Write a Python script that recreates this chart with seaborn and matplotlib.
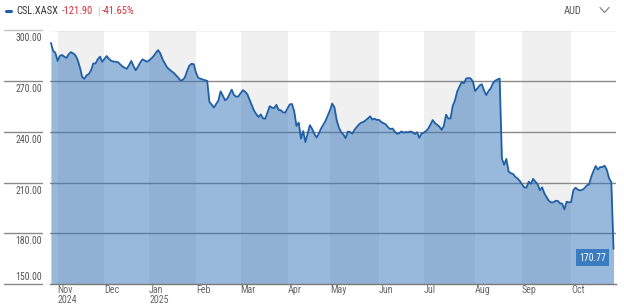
import numpy as np
import pandas as pd
import matplotlib
matplotlib.use("Agg")
import matplotlib.pyplot as plt
import matplotlib.transforms as mtransforms
from matplotlib.lines import Line2D
import seaborn as sns

# ---------------- data ----------------
TICKER = "CSL.XASX"
CHANGE_ABS = "-121.90"
CHANGE_PCT = "-41.65%"
CURRENCY = "AUD"
START_DATE = "2024-10-29"
END_DATE = "2025-10-28"
ASX_HOLIDAYS = ["2024-12-25", "2024-12-26", "2025-01-01", "2025-01-27",
                "2025-04-18", "2025-04-21", "2025-04-25", "2025-06-09"]

prices = [
    292.67, 288.0, 286.8,
    282.0, 285.0, 285.5, 284.5, 283.8, 286.0, 287.2, 286.4, 285.3, 282.5,
    278.1, 272.6, 271.4, 273.5, 274.2, 276.5, 280.5, 280.5, 283.0, 284.5,
    281.5, 283.2, 284.9, 283.2, 282.1, 281.6, 281.5, 281.3, 280.0, 278.8,
    278.0, 277.3, 279.5, 282.0, 278.9, 276.5, 278.5, 281.0, 282.9, 282.3,
    281.5, 282.3, 283.5, 284.8, 286.8, 288.4, 286.5, 283.0, 280.7, 278.3,
    277.0, 275.9, 275.0, 273.5, 272.2, 270.4, 270.7, 272.2, 276.0, 279.2,
    280.3, 280.0, 275.0, 272.0, 271.5, 271.0, 270.6, 270.2, 257.7, 256.2,
    254.4, 256.5, 258.5, 264.0, 261.5, 258.7, 259.7, 262.4, 265.0, 261.8,
    260.8, 261.0, 263.0, 264.7, 263.8, 262.2, 259.0, 255.8, 252.5, 250.5,
    248.8, 250.4, 248.0, 247.8, 251.5, 255.2, 254.4, 254.0, 256.0, 253.0,
    252.8, 251.5, 251.5, 254.0, 256.3, 256.5, 252.0, 243.5, 245.5, 236.0,
    240.5, 234.0, 239.0, 244.0, 241.8, 238.8, 236.7, 239.0, 242.0, 244.2,
    246.5, 249.7, 252.8, 256.8, 254.5, 247.0, 242.5, 239.9, 238.5, 236.3,
    240.2, 239.9, 239.0, 241.3, 242.9, 244.5, 245.5, 245.9, 246.9, 248.0,
    249.2, 247.3, 247.8, 247.1, 247.1, 245.8, 245.1, 244.5, 242.7, 241.7,
    242.0, 240.2, 238.9, 239.2, 240.3, 239.5, 240.0, 239.7, 240.3, 239.8,
    238.7, 239.8, 236.5, 238.9, 239.5, 240.5, 241.9, 244.3, 247.0, 245.2,
    244.2, 243.1, 241.2, 243.5, 250.2, 247.9, 248.0, 255.5, 258.7, 264.0,
    266.8, 269.6, 268.8, 271.6, 271.9, 271.6, 269.8, 264.2, 265.6, 267.5,
    268.2, 264.5, 261.8, 264.2, 265.8, 268.8, 270.3, 271.0, 271.6, 224.2,
    220.5, 224.0, 216.5, 215.6, 215.1, 213.4, 212.5, 211.0, 209.0, 207.2,
    207.0, 210.5, 209.3, 212.2, 210.5, 209.0, 205.5, 207.2, 203.7, 201.4,
    199.3, 198.3, 198.3, 199.2, 199.2, 197.8, 197.5, 194.2, 198.7, 198.3,
    198.5, 205.5, 207.0, 205.8, 205.4, 205.7, 206.7, 208.3, 208.8, 213.4,
    216.8, 219.8, 217.7, 219.2, 219.1, 220.0, 217.5, 212.5, 210.3, 170.77,
]

month_labels = ["Nov\n2024", "Dec", "Jan\n2025", "Feb", "Mar", "Apr", "May",
                "Jun", "Jul", "Aug", "Sep", "Oct"]
shaded_months = ["2024-11", "2025-01", "2025-03", "2025-05", "2025-07", "2025-09"]
y_ticks = [150, 180, 210, 240, 270, 300]

# ---------------- build frame ----------------
dates = pd.bdate_range(START_DATE, END_DATE, freq="C", holidays=ASX_HOLIDAYS)
n = min(len(dates), len(prices))
df = pd.DataFrame({"date": dates[:n], "price": prices[:n]})
df["pos"] = np.arange(n)
df["month"] = df["date"].dt.to_period("M").astype(str)
first_pos = df.groupby("month")["pos"].first()
month_keys = list(first_pos.index)
tick_pos = [first_pos[m] for m in month_keys[1:]]  # Nov 2024 .. Oct 2025

# ---------------- style ----------------
sns.set_style("white")
FONT = ["Liberation Sans Narrow", "Roboto Condensed", "Liberation Sans", "DejaVu Sans"]
plt.rcParams["font.family"] = FONT

LINE = "#1f5fa6"
FILL = "#3274b8"
GRID = "#8a8a8a"
BAND = "#f0f0f0"
RED = "#d9313c"

W, H = 624, 307
fig = plt.figure(figsize=(W / 100, H / 100), dpi=100)
fig.patch.set_facecolor("white")
ax = fig.add_axes([50 / W, 23 / H, 566 / W, 253.5 / H])
ax.set_facecolor("white")

# alternating month bands
for m in shaded_months:
    i = month_keys.index(m)
    s = first_pos[m]
    e = first_pos[month_keys[i + 1]] if i + 1 < len(month_keys) else n
    ax.axvspan(s, e, color=BAND, lw=0, zorder=0)

# gridlines
for v in y_ticks[1:]:
    ax.axhline(v, color=("#c2c2c2" if v == 300 else GRID), lw=1.0, zorder=1)

# area + line
ax.fill_between(df["pos"], df["price"], 150, color=FILL, alpha=0.5, lw=0, zorder=2)
sns.lineplot(data=df, x="pos", y="price", ax=ax, color=LINE, linewidth=1.3, zorder=4)

ax.set_xlim(-0.4, n + 0.1)
ax.set_ylim(150, 300)
ax.set_xlabel("")
ax.set_ylabel("")

for side in ["top", "left", "right"]:
    ax.spines[side].set_visible(False)
ax.spines["bottom"].set_color("#7a7a7a")
ax.spines["bottom"].set_linewidth(1.0)

ax.set_xticks(tick_pos)
ax.set_xticklabels(month_labels, ha="left", fontsize=7.2, color="#666666",
                   linespacing=1.1)
ax.tick_params(axis="x", length=0, pad=0.5)
ax.set_yticks([])

# y labels with stub lines on the left
trans = mtransforms.blended_transform_factory(ax.transAxes, ax.transData)
x0 = (4 - 50) / 566
x1 = (42 - 50) / 566
for v in y_ticks:
    c = "#c2c2c2" if v == 300 else "#8a8a8a"
    ax.add_line(Line2D([x0, x1], [v, v], transform=trans, color=c, lw=1.0,
                       clip_on=False))
    if v == 150:
        ax.annotate(f"{v:.2f}", xy=(x1, v), xycoords=trans, xytext=(0, 2),
                    textcoords="offset pixels", ha="right", va="bottom",
                    fontsize=7, color="#555555", annotation_clip=False)
    else:
        ax.annotate(f"{v:.2f}", xy=(x1, v), xycoords=trans, xytext=(0, -3),
                    textcoords="offset pixels", ha="right", va="top",
                    fontsize=7, color="#555555", annotation_clip=False)

# last value label
last = df.iloc[-1]
ax.annotate(f"{last['price']:.2f}", xy=(last["pos"], last["price"]),
            xytext=(-21, -9), textcoords="offset pixels", ha="center",
            va="center", fontsize=7, color="white", zorder=6,
            bbox=dict(boxstyle="square,pad=0.35", fc="#3b7bbf", ec="none"))

# header
def fx(px):
    return px / W

def fy(py):
    return 1 - py / H

fig.add_artist(Line2D([fx(6), fx(11)], [fy(11), fy(11)], color=LINE, lw=2.2))
fig.text(fx(16), fy(11), TICKER, ha="left", va="center", fontsize=7.6, color="#333333")
fig.text(fx(62), fy(11), CHANGE_ABS, ha="left", va="center", fontsize=7.6, color=RED)
fig.text(fx(97.5), fy(11), "|", ha="left", va="center", fontsize=7.6, color="#bbbbbb")
fig.text(fx(102), fy(11), CHANGE_PCT, ha="left", va="center", fontsize=7.6, color=RED)
fig.text(fx(564), fy(11), CURRENCY, ha="left", va="center", fontsize=7.6, color="#555555")
fig.add_artist(Line2D([fx(600), fx(604.5), fx(609)], [fy(7.5), fy(12.5), fy(7.5)],
                      color="#888888", lw=0.9))

fig.savefig("out.png", dpi=100, facecolor="white")
